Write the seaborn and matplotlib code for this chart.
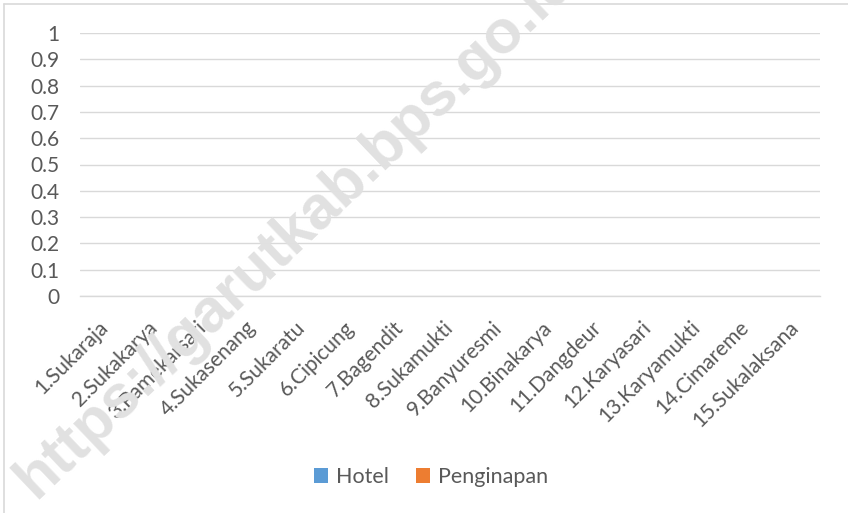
import matplotlib
matplotlib.use("Agg")
import matplotlib.pyplot as plt
from matplotlib.lines import Line2D
from matplotlib.patches import Patch
import seaborn as sns
import pandas as pd

# data
desa = ['1.Sukaraja', '2.Sukakarya', '3.Pamekarsari', '4.Sukasenang', '5.Sukaratu',
        '6.Cipicung', '7.Bagendit', '8.Sukamukti', '9.Banyuresmi', '10.Binakarya',
        '11.Dangdeur', '12.Karyasari', '13.Karyamukti', '14.Cimareme', '15.Sukalaksana']
hotel = [0, 0, 0, 0, 0, 0, 0, 0, 0, 0, 0, 0, 0, 0, 0]
penginapan = [0, 0, 0, 0, 0, 0, 0, 0, 0, 0, 0, 0, 0, 0, 0]
series = ['Hotel', 'Penginapan']
colors = ['#5B9BD5', '#ED7D31']
yticks = [0, 0.1, 0.2, 0.3, 0.4, 0.5, 0.6, 0.7, 0.8, 0.9, 1]
ytick_labels = ['0', '0.1', '0.2', '0.3', '0.4', '0.5', '0.6', '0.7', '0.8', '0.9', '1']

df = pd.DataFrame({
    'desa': desa * 2,
    'jumlah': hotel + penginapan,
    'jenis': ['Hotel'] * len(desa) + ['Penginapan'] * len(desa),
})

sns.set_style("white")
plt.rcParams['font.family'] = ['Lato', 'DejaVu Sans']

fig = plt.figure(figsize=(8.48, 5.13), dpi=100)
ax = fig.add_axes([80 / 848, 1 - 296 / 513, 740 / 848, 263 / 513])

sns.barplot(data=df, x='desa', y='jumlah', hue='jenis', palette=colors,
            order=desa, hue_order=series, ax=ax, linewidth=0, legend=False)

ax.set_ylim(0, 1)
ax.set_yticks(yticks)
ax.set_yticklabels(ytick_labels)
ax.set_xlabel('')
ax.set_ylabel('')
ax.yaxis.grid(True, color='#d9d9d9', linewidth=1.0)
ax.set_axisbelow(True)
for s in ['top', 'right', 'left']:
    ax.spines[s].set_visible(False)
ax.spines['bottom'].set_color('#d9d9d9')
ax.spines['bottom'].set_linewidth(1.0)
ax.tick_params(axis='both', length=0, colors='#595959', labelsize=15)
ax.tick_params(axis='y', pad=15)
ax.tick_params(axis='x', pad=20.5)
for lbl in ax.get_xticklabels():
    lbl.set_rotation(45)
    lbl.set_ha('right')
    lbl.set_va('center')
    lbl.set_rotation_mode('anchor')

handles = [Patch(facecolor=c, edgecolor='none') for c in colors]
fig.legend(handles, series, loc='center', bbox_to_anchor=(431 / 848, 1 - 477 / 513),
           ncol=2, frameon=False, fontsize=15.5, labelcolor='#595959',
           handlelength=0.65, handleheight=0.65, handletextpad=0.35, columnspacing=1.3)

# chart border (top and left visible in the crop)
fig.add_artist(Line2D([4 / 848, 1], [1 - 4 / 513, 1 - 4 / 513], transform=fig.transFigure,
                      color='#d9d9d9', linewidth=1.2))
fig.add_artist(Line2D([4 / 848, 4 / 848], [0, 1 - 4 / 513], transform=fig.transFigure,
                      color='#d9d9d9', linewidth=1.2))

# watermark
fig.text(297 / 848, 1 - 230 / 513, 'https://garutkab.bps.go.id', rotation=43.6,
         rotation_mode='anchor', ha='center', va='center', fontsize=44,
         fontweight='bold', color='#e1e1e1', family=['Liberation Sans', 'DejaVu Sans'],
         zorder=10)

fig.savefig('out.png', dpi=100)
